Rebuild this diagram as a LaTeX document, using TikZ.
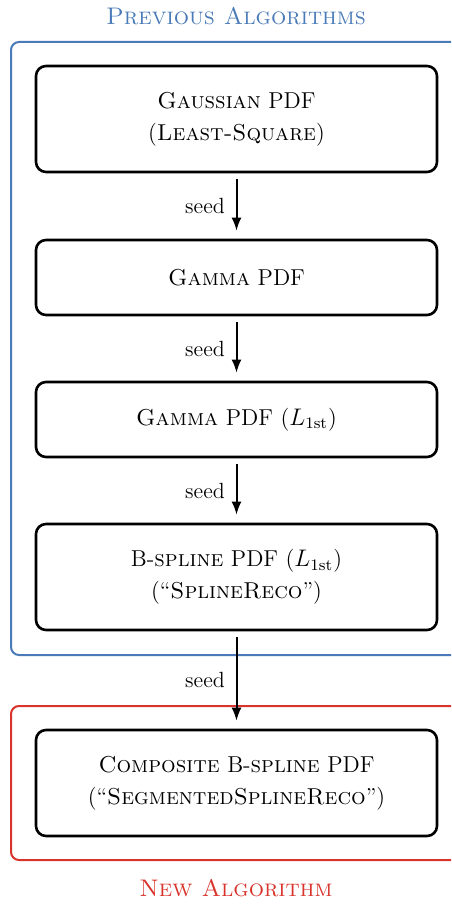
\documentclass[tikz,border=0pt]{standalone}
\usetikzlibrary{arrows.meta}
\definecolor{frameblue}{RGB}{74,123,184}
\definecolor{framered}{RGB}{216,52,44}
\tikzset{
  algbox/.style={draw=black, line width=1.3pt, rounded corners=5pt, minimum width=200.5pt, inner sep=0pt, align=center, font=\fontsize{11.5}{16}\selectfont},
  tallbox/.style={algbox, minimum height=53pt},
  shortbox/.style={algbox, minimum height=37.5pt},
  seedarrow/.style={-{Latex[length=6.5pt,width=5pt]}, line width=1pt, shorten <=3pt, shorten >=4pt},
  seedlabel/.style={left=2pt, font=\fontsize{11}{13}\selectfont, midway},
  grouptitle/.style={font=\fontsize{12}{14}\selectfont\scshape},
  groupframe/.style={line width=1pt, rounded corners=4pt}
}
\begin{document}
\begin{tikzpicture}[x=0.5pt,y=-0.5pt]
\useasboundingbox (0,0) rectangle (451,904);
\clip (0,0) rectangle (451,904);
\draw[groupframe, frameblue] (11,42) rectangle (470,655);
\draw[groupframe, framered] (11,706) rectangle (470,860);
\node[grouptitle, text=frameblue] (tprev) at (236,16) {Previous Algorithms};
\node[grouptitle, text=framered] (tnew) at (236,888) {New Algorithm};
\node[tallbox] (b1) at (236.5,119) {\textsc{Gaussian} PDF\\(\textsc{Least-Square})};
\node[shortbox] (b2) at (236.5,277.5) {\textsc{Gamma} PDF};
\node[shortbox] (b3) at (236.5,419.5) {\textsc{Gamma} PDF ($L_{\mathrm{1st}}$)};
\node[tallbox] (b4) at (236.5,577) {B-\textsc{spline} PDF ($L_{\mathrm{1st}}$)\\(``\textsc{SplineReco}'')};
\node[tallbox] (b5) at (236.5,783) {\textsc{Composite} B-\textsc{spline} PDF\\(``\textsc{SegmentedSplineReco}'')};
\draw[seedarrow] (b1) -- node[seedlabel] (s1) {seed} (b2);
\draw[seedarrow] (b2) -- node[seedlabel] (s2) {seed} (b3);
\draw[seedarrow] (b3) -- node[seedlabel] (s3) {seed} (b4);
\draw[seedarrow] (b4) -- node[seedlabel] (s4) {seed} (b5);
\end{tikzpicture}
\end{document}
